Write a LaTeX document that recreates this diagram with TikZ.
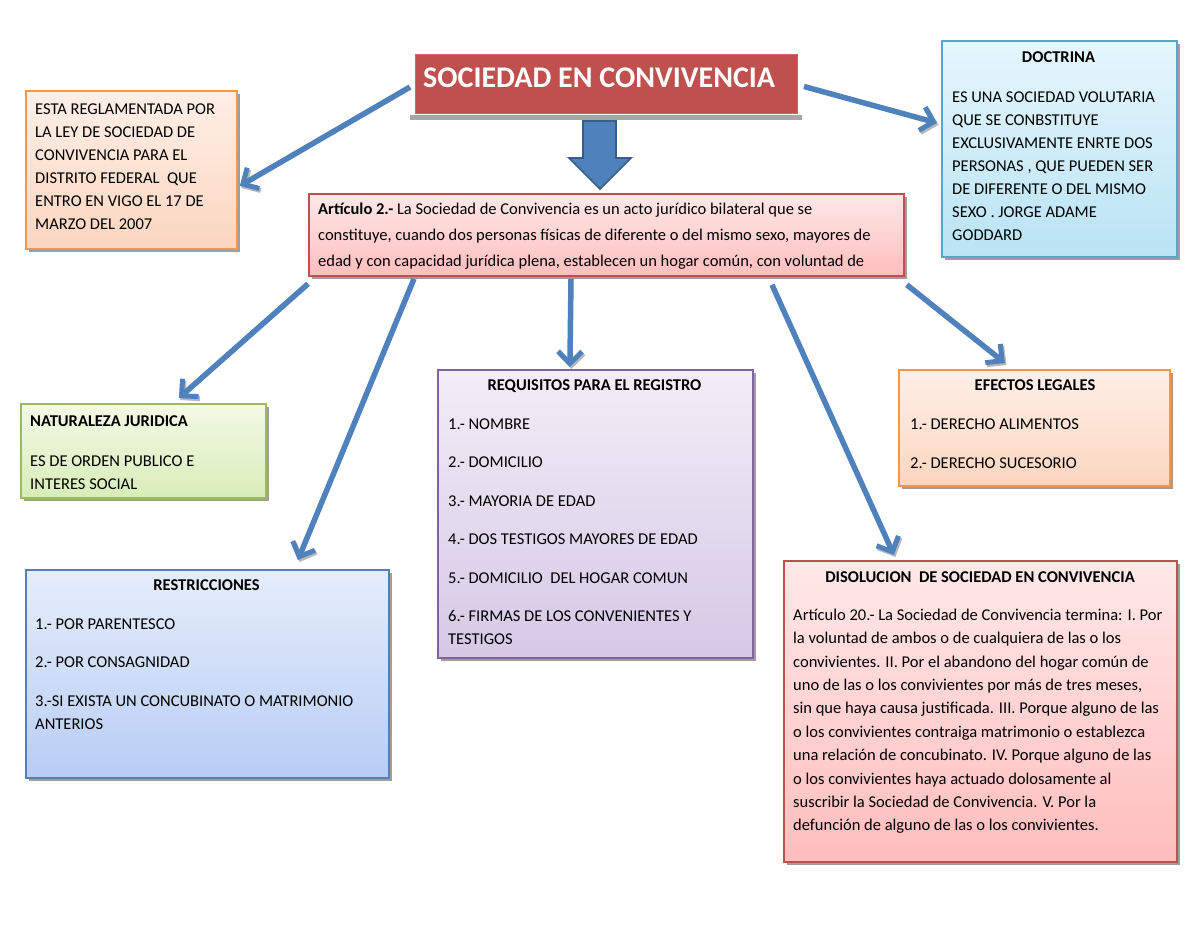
\documentclass[tikz,border=0pt]{standalone}
\usepackage{fontspec}
\setmainfont{Carlito}
\usetikzlibrary{arrows.meta,shadows}
\definecolor{blueA}{HTML}{4F81BD}
\definecolor{blueD}{HTML}{385D8A}
\definecolor{redA}{HTML}{C0504D}
\definecolor{orangeB}{HTML}{F79646}
\definecolor{cyanB}{HTML}{4BACC6}
\definecolor{greenB}{HTML}{9BBB59}
\definecolor{purpleB}{HTML}{8064A2}
\definecolor{peachT}{HTML}{FEEFE7}
\definecolor{peachB}{HTML}{FBD6BF}
\definecolor{skyT}{HTML}{E6F6FC}
\definecolor{skyB}{HTML}{B9E3F4}
\definecolor{pinkT}{HTML}{FFE8E8}
\definecolor{pinkB}{HTML}{FFBDBD}
\definecolor{greenT}{HTML}{F3F9E6}
\definecolor{greenBt}{HTML}{D8EDB8}
\definecolor{lavT}{HTML}{F2EDF7}
\definecolor{lavB}{HTML}{D5C8E6}
\definecolor{restT}{HTML}{E5EDFA}
\definecolor{restB}{HTML}{B8CDF5}
\newcommand\fl{\rule{0pt}{13pt}}
\tikzset{
  box/.style={line width=1.8pt, inner sep=0pt, anchor=north west,
    general shadow={fill=black!38, shadow xshift=3pt, shadow yshift=-3pt}},
  txt/.style={anchor=north west, inner sep=0pt, align=left,
    font=\fontsize{16.5}{23}\selectfont, text=black},
  ttl/.style={anchor=base, inner sep=0pt, font=\fontsize{16.5}{20}\selectfont\bfseries},
  conn/.style={draw=blueA, line width=5.5pt,
    -{Straight Barb[length=12pt,width=24pt,line width=5pt]},
    preaction={draw=black!28, transform canvas={xshift=1.5pt,yshift=-2pt}}},
}
\begin{document}
\begin{tikzpicture}[x=1pt,y=-1pt]
\useasboundingbox (0,0) rectangle (1200,927);
\fill[white] (0,0) rectangle (1200,927);

% title
\fill[black!35] (410,115) rectangle (802,120);
\node[fill=redA, draw=redA!85!white, line width=1pt, anchor=north west, inner sep=0pt,
  minimum width=382pt, minimum height=59pt] (title) at (415,54) {};
\node[anchor=west, inner sep=0pt, text=white, font=\fontsize{30}{34}\selectfont\bfseries]
  (titletxt) at (423,77.5) {SOCIEDAD EN CONVIVENCIA};

% big block arrow
\filldraw[fill=blueA, draw=blueD, line width=1.6pt, line join=miter]
  (583,121) -- (616,121) -- (616,158) -- (631,158) -- (600,189) -- (569,158) -- (583,158) -- cycle;

% left box
\node[box, draw=orangeB, top color=peachT, bottom color=peachB,
  minimum width=211pt, minimum height=158pt] (lbox) at (25,90) {};
\node[txt] (lboxtxt) at (35,101) {\fl ESTA REGLAMENTADA POR\\
LA LEY DE SOCIEDAD DE\\
CONVIVENCIA PARA EL\\
DISTRITO FEDERAL\ \ QUE\\
ENTRO EN VIGO EL 17 DE\\
MARZO DEL 2007};

% doctrina
\node[box, draw=cyanB, top color=skyT, bottom color=skyB,
  minimum width=235pt, minimum height=216pt] (doc) at (941,40) {};
\node[ttl] (doctitle) at (1058.5,62) {DOCTRINA};
\node[txt] (doctxt) at (952,89) {\fl ES UNA SOCIEDAD VOLUTARIA\\
QUE SE CONBSTITUYE\\
EXCLUSIVAMENTE ENRTE DOS\\
PERSONAS , QUE PUEDEN SER\\
DE DIFERENTE O DEL MISMO\\
SEXO . JORGE ADAME\\
GODDARD};

% article
\node[box, draw=redA, top color=pinkT, bottom color=pinkB,
  minimum width=595pt, minimum height=82pt] (art) at (308,193) {};
\node[txt, font=\fontsize{16.5}{26}\selectfont] (arttxt) at (318,201) {\fl\textbf{Artículo 2.-} La Sociedad de Convivencia es un acto jurídico bilateral que se\\
constituye, cuando dos personas físicas de diferente o del mismo sexo, mayores de\\
edad y con capacidad jurídica plena, establecen un hogar común, con voluntad de};

% naturaleza
\node[box, draw=greenB, top color=greenT, bottom color=greenBt,
  minimum width=245pt, minimum height=94pt] (nat) at (20,403) {};
\node[txt] (nattxt) at (30,413) {\fl\textbf{NATURALEZA JURIDICA}\\[17pt]
ES DE ORDEN PUBLICO E\\
INTERES SOCIAL};

% requisitos
\node[box, draw=purpleB, top color=lavT, bottom color=lavB,
  minimum width=315pt, minimum height=288pt] (req) at (437,369) {};
\node[ttl] (reqtitle) at (594.5,390) {REQUISITOS PARA EL REGISTRO};
\node[txt] (reqtxt) at (448,416) {\fl 1.- NOMBRE\\[15.5pt]
2.- DOMICILIO\\[15.5pt]
3.- MAYORIA DE EDAD\\[15.5pt]
4.- DOS TESTIGOS MAYORES DE EDAD\\[15.5pt]
5.- DOMICILIO\ \ DEL HOGAR COMUN\\[15.5pt]
6.- FIRMAS DE LOS CONVENIENTES Y\\
TESTIGOS};

% efectos
\node[box, draw=orangeB, top color=peachT, bottom color=peachB,
  minimum width=271pt, minimum height=116pt] (eff) at (898,369) {};
\node[ttl] (efftitle) at (1035,390) {EFECTOS LEGALES};
\node[txt] (efftxt) at (910,416) {\fl 1.- DERECHO ALIMENTOS\\[16pt]
2.- DERECHO SUCESORIO};

% restricciones
\node[box, draw=blueA, top color=restT, bottom color=restB,
  minimum width=363pt, minimum height=208pt] (res) at (25,569) {};
\node[ttl] (restitle) at (206.5,590) {RESTRICCIONES};
\node[txt] (restxt) at (35,616) {\fl 1.- POR PARENTESCO\\[15.5pt]
2.- POR CONSAGNIDAD\\[15.5pt]
3.-SI EXISTA UN CONCUBINATO O MATRIMONIO\\
ANTERIOS};

% disolucion
\node[box, draw=redA, top color=pinkT, bottom color=pinkB,
  minimum width=393pt, minimum height=301pt] (dis) at (783,560) {};
\node[ttl] (distitle) at (980,582) {DISOLUCION\ \ DE SOCIEDAD EN CONVIVENCIA};
\node[txt, font=\fontsize{16.5}{23.4}\selectfont] (distxt) at (793,607) {\fl Artículo 20.- La Sociedad de Convivencia termina: I. Por\\
la voluntad de ambos o de cualquiera de las o los\\
convivientes. II. Por el abandono del hogar común de\\
uno de las o los convivientes por más de tres meses,\\
sin que haya causa justificada. III. Porque alguno de las\\
o los convivientes contraiga matrimonio o establezca\\
una relación de concubinato. IV. Porque alguno de las\\
o los convivientes haya actuado dolosamente al\\
suscribir la Sociedad de Convivencia. V. Por la\\
defunción de alguno de las o los convivientes.};

% connectors
\draw[conn] ([xshift=-5pt,yshift=-3pt]title.west) -- ([xshift=2pt,yshift=-16pt]lbox.east);
\draw[conn] ([xshift=6pt,yshift=-2.5pt]title.east) -- ([xshift=-4pt,yshift=26pt]doc.west);
\draw[conn] ([yshift=-7pt]art.south west) -- ([xshift=35.5pt,yshift=5pt]nat.north);
\draw[conn] ([xshift=106pt,yshift=-2pt]art.south west) -- ([xshift=90.5pt,yshift=9pt]res.north);
\draw[conn] ([xshift=263pt,yshift=-2pt]art.south west) -- ([xshift=-25.5pt,yshift=2pt]req.north);
\draw[conn] ([xshift=464pt,yshift=-8pt]art.south west) -- ([xshift=-86.5pt,yshift=5pt]dis.north);
\draw[conn] ([xshift=2pt,yshift=-8pt]art.south east) -- ([xshift=-29.5pt,yshift=6pt]eff.north);
\end{tikzpicture}
\end{document}
